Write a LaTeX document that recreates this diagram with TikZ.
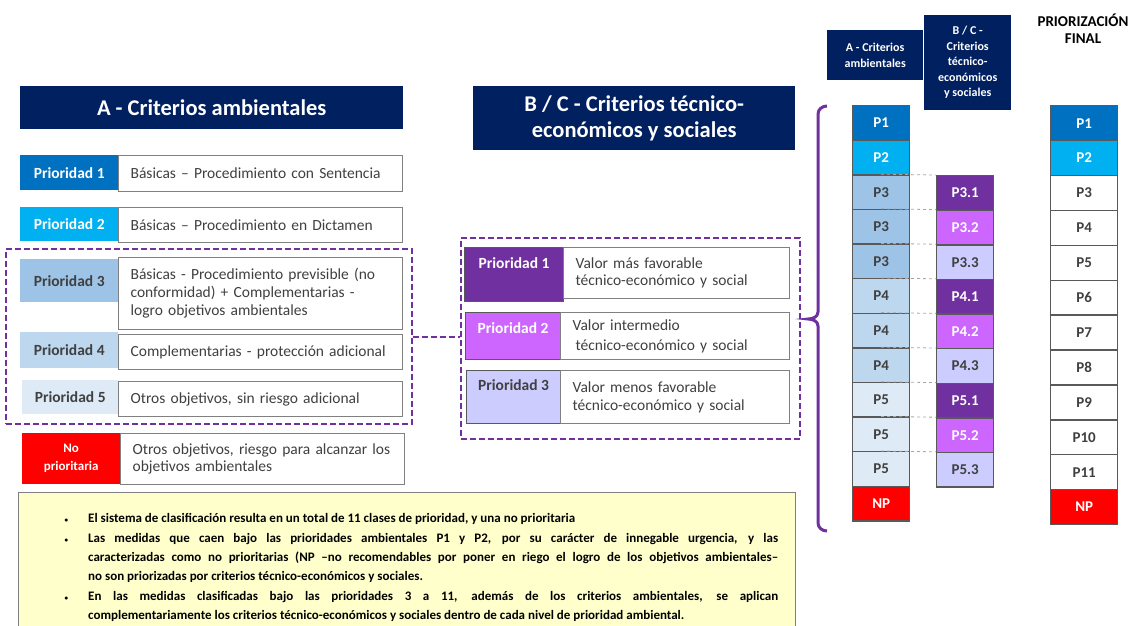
\documentclass[tikz,border=0pt]{standalone}
\usepackage{fontspec}
\setmainfont{Carlito}
\usetikzlibrary{positioning}

\definecolor{navy}{HTML}{002060}
\definecolor{pone}{HTML}{0070C0}
\definecolor{ptwo}{HTML}{00B0F0}
\definecolor{pthree}{HTML}{9DC3E6}
\definecolor{pfour}{HTML}{BDD7EE}
\definecolor{pfive}{HTML}{DEEBF7}
\definecolor{npred}{HTML}{FF0000}
\definecolor{vone}{HTML}{7030A0}
\definecolor{vtwo}{HTML}{CC66FF}
\definecolor{vthree}{HTML}{CCCCFF}
\definecolor{notefill}{HTML}{FFFFCC}
\definecolor{txt}{HTML}{404040}
\definecolor{boxgray}{HTML}{808080}
\definecolor{cellgray}{HTML}{595959}

\tikzset{
  headbox/.style={anchor=north west, fill=navy, text=white, inner sep=0pt, align=center,
    font=\bfseries\fontsize{22.5}{26.5}\selectfont},
  smallhead/.style={anchor=north west, fill=navy, text=white, inner sep=0pt, align=center,
    font=\bfseries\fontsize{12}{15.5}\selectfont},
  tag/.style={anchor=north west, inner sep=0pt, align=center, font=\bfseries\fontsize{15.5}{17}\selectfont},
  toptag/.style={tag, draw=cellgray, line width=1.2pt, text=white, text height=11pt, text depth=#1},
  desc/.style={anchor=north west, draw=boxgray, line width=1.2pt, fill=white, inner xsep=12pt, inner ysep=0pt,
    align=left, text=txt, font=\fontsize{15.5}{18}\selectfont},
  grpbox/.style={anchor=north west, draw=vone, line width=2.4pt, dash pattern=on 6pt off 3pt, inner sep=0pt},
  grplink/.style={draw=vone, line width=2.4pt, dash pattern=on 6pt off 3pt},
  cell/.style={anchor=north west, draw=cellgray, line width=1.4pt, inner sep=0pt,
    font=\bfseries\fontsize{15}{16}\selectfont},
  tie/.style={draw=gray!70, dashed, line width=0.8pt},
}

\begin{document}
\begin{tikzpicture}[x=1pt, y=-1pt]
\useasboundingbox (0,0) rectangle (1133,625);

% A - criterios ambientales
\node[headbox, minimum width=383, minimum height=43] (titA) at (20,86) {A - Criterios ambientales};
\node[grpbox, minimum width=406, minimum height=175] (grpA) at (5,248) {};

\node[tag, fill=pone, text=white, minimum width=98, minimum height=35] (pa1) at (20,155) {Prioridad 1};
\node[desc, text width=260, minimum height=36] (da1) at (118,155) {Básicas – Procedimiento con Sentencia};
\node[tag, fill=ptwo, text=white, minimum width=98, minimum height=34] (pa2) at (20,207) {Prioridad 2};
\node[desc, text width=260, minimum height=35] (da2) at (118,207) {Básicas – Procedimiento en Dictamen};
\node[tag, fill=pthree, text=txt, minimum width=98, minimum height=43] (pa3) at (20,259) {Prioridad 3};
\node[desc, text width=260, minimum height=72] (da3) at (118,257)
  {Básicas - Procedimiento previsible (no\\conformidad) + Complementarias -\\logro objetivos ambientales};
\node[tag, fill=pfour, text=txt, minimum width=98, minimum height=36] (pa4) at (20,332) {Prioridad 4};
\node[desc, text width=260, minimum height=35] (da4) at (118,334) {Complementarias - protección adicional};
\node[tag, fill=pfive, text=txt, minimum width=96, minimum height=34] (pa5) at (22,380) {Prioridad 5};
\node[desc, text width=260, minimum height=35] (da5) at (118,381) {Otros objetivos, sin riesgo adicional};
\node[tag, fill=npred, text=white, minimum width=98, minimum height=51,
  font=\bfseries\fontsize{13}{18}\selectfont] (pan) at (22,433) {No\\prioritaria};
\node[desc, text width=260, minimum height=51, font=\fontsize{15.5}{17}\selectfont] (dan) at (120,433)
  {Otros objetivos, riesgo para alcanzar los\\objetivos ambientales};

% B / C - criterios tecnico-economicos y sociales
\node[headbox, minimum width=322, minimum height=64] (titB) at (473,86) {B / C - Criterios técnico-\\económicos y sociales};
\node[grpbox, minimum width=339, minimum height=201] (grpB) at (460,237) {};

\node[toptag=23pt, fill=vone, minimum width=99, minimum height=54] (pb1) at (464,247) {Prioridad 1};
\node[desc, text width=202, minimum height=51, font=\fontsize{15.5}{17}\selectfont] (db1) at (563,247)
  {Valor más favorable\\técnico-económico y social};
\node[toptag=16pt, fill=vtwo, minimum width=95, minimum height=47] (pb2) at (465,312) {Prioridad 2};
\node[desc, text width=205, minimum height=47, font=\fontsize{15.5}{20}\selectfont] (db2) at (560,312)
  {Valor intermedio\\\hspace{3pt}técnico-económico y social};
\node[toptag=24pt, fill=vthree, text=txt, minimum width=94, minimum height=53] (pb3) at (466,370) {Prioridad 3};
\node[desc, text width=205, minimum height=53, font=\fontsize{15.5}{18}\selectfont] (db3) at (560,370)
  {Valor menos favorable\\técnico-económico y social};

\draw[grplink] (grpA.east) -- (grpA.east -| grpB.west);

% columnas
\draw[vone, line width=3pt] (827,106) to[out=180,in=90] (818,114) -- (818,312) to[out=-90,in=0] (808,319)
  to[out=0,in=90] (818,326) -- (818,523) to[out=-90,in=180] (827,531);

\node[smallhead, minimum width=96, minimum height=50] (hA) at (827,30) {A - Criterios\\ambientales};
\node[smallhead, minimum width=87, minimum height=95] (hB) at (924,15) {B / C -\\Criterios\\técnico-\\económicos\\y sociales};
\node[font=\bfseries\fontsize{15}{17}\selectfont, align=center] (hF) at (1083,29) {PRIORIZACIÓN\\FINAL};

\foreach \lab/\bg/\fg [count=\i] in {P1/pone/white,P2/ptwo/white,P3/pthree/txt,P3/pthree/txt,P3/pthree/txt,
    P4/pfour/txt,P4/pfour/txt,P4/pfour/txt,P5/pfive/txt,P5/pfive/txt,P5/pfive/txt,NP/npred/white}
  \node[cell, fill=\bg, text=\fg, minimum width=57, minimum height=34.6] (a\i) at (852,{105+(\i-1)*34.6}) {\lab};

\foreach \lab/\bg/\fg [count=\i] in {P3.1/vone/white,P3.2/vtwo/white,P3.3/vthree/txt,
    P4.1/vone/white,P4.2/vtwo/white,P4.3/vthree/txt,P5.1/vone/white,P5.2/vtwo/white,P5.3/vthree/txt}
  \node[cell, fill=\bg, text=\fg, minimum width=57, minimum height=34.6] (b\i) at (936,{175+(\i-1)*34.6}) {\lab};

\foreach \lab/\bg/\fg [count=\i] in {P1/pone/white,P2/ptwo/white,P3/white/txt,P4/white/txt,P5/white/txt,
    P6/white/txt,P7/white/txt,P8/white/txt,P9/white/txt,P10/white/txt,P11/white/txt,NP/npred/white}
  \node[cell, fill=\bg, text=\fg, minimum width=67, minimum height=34.9] (f\i) at (1050,{105+(\i-1)*34.9}) {\lab};

\foreach \k [evaluate=\k as \j using int(\k+2)] in {1,...,9}
  \draw[tie] (a\j.north) -- (b\k.north west);

% notas
\node[anchor=north west, draw=boxgray, fill=notefill, line width=1.2pt, inner sep=0pt,
  minimum width=777, minimum height=150] (notebox) at (18,492) {};
\node[anchor=north west, inner sep=0pt, text width=716, align=justify, text=black,
  font=\bfseries\fontsize{13}{19.4}\selectfont] (notes) at (62,503) {%
  \hyphenpenalty=10000
  \begin{list}{\scriptsize\textbullet}{\setlength{\leftmargin}{26pt}\setlength{\labelwidth}{6pt}\setlength{\labelsep}{20pt}%
    \setlength{\itemsep}{0pt}\setlength{\parsep}{0pt}\setlength{\topsep}{0pt}\setlength{\partopsep}{0pt}}
  \item El sistema de clasificación resulta en un total de 11 clases de prioridad, y una no prioritaria
  \item Las medidas que caen bajo las prioridades ambientales P1 y P2, por su carácter de innegable urgencia, y las\linebreak
    caracterizadas como no prioritarias (NP –no recomendables por poner en riego el logro de los objetivos ambientales–\linebreak
    no son priorizadas por criterios técnico-económicos y sociales.
  \item En las medidas clasificadas bajo las prioridades 3 a 11, además de los criterios ambientales, se aplican\linebreak
    complementariamente los criterios técnico-económicos y sociales dentro de cada nivel de prioridad ambiental.
  \end{list}};
\end{tikzpicture}
\end{document}
